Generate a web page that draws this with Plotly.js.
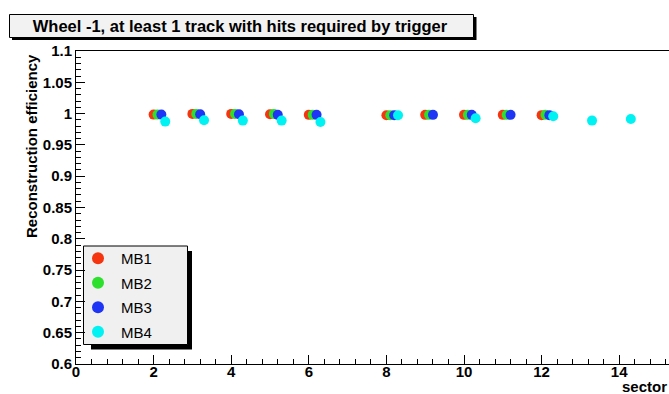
<!DOCTYPE html>
<html>
<head>
<meta charset="utf-8">
<script src="https://cdn.plot.ly/plotly-3.0.1.min.js"></script>
<style>html,body{margin:0;padding:0;background:#fff;}#chart{width:669px;height:394px;}</style>
</head>
<body>
<div id="chart"></div>
<script>
// ---- data ----
const seriesNames = ["MB1", "MB2", "MB3", "MB4"];
const sectorOffsets = [0, 0.1, 0.2, 0.3];
const sectorsMB1 = [2, 3, 4, 5, 6, 8, 9, 10, 11, 12];
const effMB1 = [0.9984, 0.9995, 0.9995, 0.999, 0.998, 0.9973, 0.998, 0.998, 0.998, 0.9975];
const sectorsMB2 = [2, 3, 4, 5, 6, 8, 9, 10, 11, 12];
const effMB2 = [0.9984, 0.9995, 0.9995, 0.9995, 0.998, 0.9973, 0.998, 0.998, 0.998, 0.998];
const sectorsMB3 = [2, 3, 4, 5, 6, 8, 9, 10, 11, 12];
const effMB3 = [0.9984, 0.999, 0.999, 0.998, 0.998, 0.9973, 0.998, 0.998, 0.998, 0.9975];
const sectorsMB4 = [2, 3, 4, 5, 6, 8, 10, 12, 13, 14];
const effMB4 = [0.9872, 0.9893, 0.9888, 0.9888, 0.9867, 0.9973, 0.9925, 0.9957, 0.9888, 0.9915];
const xTickVals = [0, 2, 4, 6, 8, 10, 12, 14];
const xTickText = ["0", "2", "4", "6", "8", "10", "12", "14"];
const yTickVals = [0.6, 0.65, 0.7, 0.75, 0.8, 0.85, 0.9, 0.95, 1.0, 1.05, 1.1];
const yTickText = ["0.6", "0.65", "0.7", "0.75", "0.8", "0.85", "0.9", "0.95", "1", "1.05", "1.1"];
const colors = ["#f5350f", "#2ee02e", "#1f35f5", "#00f2f2"];

const sectorLists = [sectorsMB1, sectorsMB2, sectorsMB3, sectorsMB4];
const effLists = [effMB1, effMB2, effMB3, effMB4];

// ---- layout geometry ----
const FW = 669, FH = 394, ML = 76, MR = 0, MT = 51, MB = 30;
const PW = FW - ML - MR, PH = FH - MT - MB;
const px = v => (v - ML) / PW;
const py = v => (FH - MB - v) / PH;

const FONT = "Liberation Sans, Arial, Helvetica, sans-serif";

const traces = seriesNames.map((name, i) => ({
  type: "scatter",
  mode: "markers",
  name: name,
  legendgroup: name,
  x: sectorLists[i].map(s => s + sectorOffsets[i]),
  y: effLists[i],
  marker: { color: colors[i], size: 10, line: { width: 0 } },
  cliponaxis: false
}));

const layout = {
  width: FW, height: FH,
  paper_bgcolor: "#ffffff", plot_bgcolor: "#ffffff",
  margin: { l: ML, r: MR, t: MT, b: MB, pad: 0 },
  title: {
    text: "Wheel -1, at least 1 track with hits required by trigger",
    font: { family: FONT, size: 16.5, weight: "bold", color: "#000" },
    x: 240 / FW, xanchor: "center", xref: "container",
    y: 1 - 26 / FH, yanchor: "middle", yref: "container"
  },
  showlegend: true,
  legend: {
    x: px(75), xanchor: "left", y: py(242), yanchor: "top",
    bgcolor: "rgba(0,0,0,0)", borderwidth: 0,
    font: { family: FONT, size: 15, color: "#000" },
    tracegroupgap: 2, itemsizing: "constant", itemwidth: 36
  },
  xaxis: {
    range: [0, PW / 38.8], showgrid: false, zeroline: false,
    showline: true, linecolor: "#000", linewidth: 1, mirror: true,
    tickmode: "array", tickvals: xTickVals, ticktext: xTickText,
    ticks: "inside", ticklen: 9, tickcolor: "#000", tickwidth: 1,
    ticklabelstandoff: -6,
    tickfont: { family: FONT, size: 15, weight: "bold", color: "#000" },
    minor: { dtick: 0.4, tick0: 0, ticks: "inside", ticklen: 5, tickcolor: "#000", tickwidth: 1, showgrid: false },
    automargin: false, fixedrange: true
  },
  yaxis: {
    range: [0.6, 1.1], showgrid: false, zeroline: false,
    showline: true, linecolor: "#000", linewidth: 1,
    tickmode: "array", tickvals: yTickVals, ticktext: yTickText,
    ticks: "inside", ticklen: 9, tickcolor: "#000", tickwidth: 1,
    tickfont: { family: FONT, size: 15, weight: "bold", color: "#000" },
    minor: { dtick: 0.01, tick0: 0.6, ticks: "inside", ticklen: 5, tickcolor: "#000", tickwidth: 1, showgrid: false },
    automargin: false, fixedrange: true
  },
  shapes: [
    { type: "rect", xref: "paper", yref: "paper", x0: px(12), x1: px(476.5), y0: py(40), y1: py(17), fillcolor: "#000", line: { width: 0 }, layer: "above" },
    { type: "rect", xref: "paper", yref: "paper", x0: px(9.5), x1: px(473.5), y0: py(37.5), y1: py(14.5), fillcolor: "#f2f2f2", line: { color: "#000", width: 1 }, layer: "above" },
    { type: "rect", xref: "paper", yref: "paper", x0: px(91), x1: px(192), y0: py(349.5), y1: py(251), fillcolor: "#000", line: { width: 0 }, layer: "below" },
    { type: "rect", xref: "paper", yref: "paper", x0: px(83.5), x1: px(187.5), y0: py(344.5), y1: py(246), fillcolor: "#f0f0f0", line: { color: "#000", width: 1 }, layer: "below" }
  ],
  annotations: [
    { text: "Reconstruction efficiency", xref: "paper", yref: "paper", x: px(31), y: py(52), xanchor: "center", yanchor: "top",
      textangle: -90, showarrow: false, font: { family: FONT, size: 15, weight: "bold", color: "#000" } },
    { text: "sector", xref: "paper", yref: "paper", x: px(669), y: py(386), xanchor: "right", yanchor: "middle",
      showarrow: false, font: { family: FONT, size: 15, weight: "bold", color: "#000" } }
  ]
};

Plotly.newPlot("chart", traces, layout, { staticPlot: true, displayModeBar: false });
</script>
</body>
</html>
